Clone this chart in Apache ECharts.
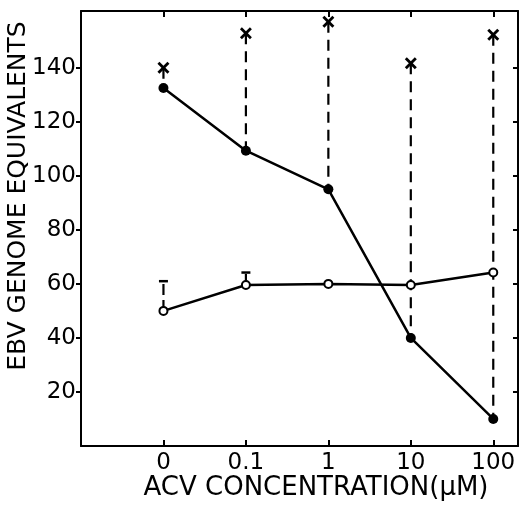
<!DOCTYPE html>
<html>
<head>
<meta charset="utf-8">
<script src="https://cdn.jsdelivr.net/npm/echarts@6/dist/echarts.min.js"></script>
<style>
html,body{margin:0;padding:0;background:#fff;}
#chart{width:520px;height:506px;}
</style>
</head>
<body>
<div id="chart"></div>
<script>
// ---- data ----
const categories = ['0', '0.1', '1', '10', '100'];
const crossValues = [140, 152.8, 157, 141.7, 152.2];      // "x" markers
const filledValues = [132.5, 109.3, 95, 40, 10];          // closed circles
const openValues = [50, 59.6, 60, 59.6, 64.2];            // open circles
const openErrorTop = [61, 64.2, null, null, null];        // upper error bars of open circles
const yTickValues = [20, 40, 60, 80, 100, 120, 140];
const xTitle = 'ACV CONCENTRATION(\u00b5M)';
const yTitle = 'EBV GENOME EQUIVALENTS';

const xIdx = categories.map((c, i) => i);
const font = 'DejaVu Sans';

const chart = echarts.init(document.getElementById('chart'), null, {renderer: 'canvas'});

const dropData = categories.map((c, i) => [i, crossValues[i], filledValues[i]]);
const errData = [];
openErrorTop.forEach((t, i) => { if (t != null) errData.push([i, openValues[i], t]); });

const axisLineStyle = {color: '#000', width: 2};

chart.setOption({
  animation: false,
  backgroundColor: '#fff',
  grid: {left: 81, right: 2, top: 11, bottom: 60},
  xAxis: [{
    type: 'value', min: -1, max: 4.3, interval: 1, position: 'bottom',
    axisLine: {onZero: false, lineStyle: axisLineStyle},
    axisTick: {inside: true, length: 6, customValues: xIdx, lineStyle: {color: '#000', width: 2}},
    axisLabel: {customValues: xIdx, formatter: v => categories[Math.round(v)], margin: 6,
      color: '#000', fontSize: 23, fontFamily: font},
    splitLine: {show: false}
  }, {
    type: 'value', min: -1, max: 4.3, interval: 1, position: 'top',
    axisLine: {onZero: false, lineStyle: axisLineStyle},
    axisTick: {inside: true, length: 6, customValues: xIdx, lineStyle: {color: '#000', width: 2}},
    axisLabel: {show: false},
    splitLine: {show: false}
  }],
  yAxis: [{
    type: 'value', min: 0, max: 161, interval: 20, position: 'left',
    axisLine: {show: true, onZero: false, lineStyle: axisLineStyle},
    axisTick: {show: true, inside: false, length: 5, customValues: yTickValues, lineStyle: {color: '#000', width: 2}},
    axisLabel: {customValues: yTickValues, margin: 5, color: '#000', fontSize: 23, fontFamily: font},
    splitLine: {show: false}
  }, {
    type: 'value', min: 0, max: 161, interval: 20, position: 'right',
    axisLine: {show: true, onZero: false, lineStyle: axisLineStyle},
    axisTick: {show: true, inside: true, length: 5, customValues: yTickValues, lineStyle: {color: '#000', width: 2}},
    axisLabel: {show: false},
    splitLine: {show: false}
  }],
  graphic: [{
    type: 'text', x: 18, y: 196, rotation: Math.PI / 2,
    style: {text: yTitle, fill: '#000', font: '25px "' + font + '"', align: 'center', verticalAlign: 'middle'}
  }, {
    type: 'text', x: 316, y: 488,
    style: {text: xTitle, fill: '#000', font: '26px "' + font + '"', align: 'center', verticalAlign: 'middle'}
  }],
  series: [{
    type: 'custom', name: 'drop', data: dropData, z: 1,
    renderItem: (params, api) => {
      const a = api.coord([api.value(0), api.value(1)]);
      const b = api.coord([api.value(0), api.value(2)]);
      return {type: 'line', shape: {x1: a[0], y1: a[1], x2: b[0], y2: b[1]},
        style: {stroke: '#000', lineWidth: 2.2, lineDash: [11, 7]}};
    }
  }, {
    type: 'custom', name: 'err', data: errData, z: 1,
    renderItem: (params, api) => {
      const a = api.coord([api.value(0), api.value(1)]);
      const b = api.coord([api.value(0), api.value(2)]);
      return {type: 'group', children: [
        {type: 'line', shape: {x1: a[0], y1: a[1], x2: b[0], y2: b[1]},
          style: {stroke: '#000', lineWidth: 2.2, lineDash: [11, 5]}},
        {type: 'line', shape: {x1: b[0] - 4.5, y1: b[1], x2: b[0] + 4.5, y2: b[1]},
          style: {stroke: '#000', lineWidth: 2.5}}
      ]};
    }
  }, {
    type: 'custom', name: 'cross', data: categories.map((c, i) => [i, crossValues[i]]), z: 3,
    renderItem: (params, api) => {
      const p = api.coord([api.value(0), api.value(1)]);
      const s = 5;
      return {type: 'group', children: [
        {type: 'line', shape: {x1: p[0] - s, y1: p[1] - s, x2: p[0] + s, y2: p[1] + s}, style: {stroke: '#000', lineWidth: 2.8}},
        {type: 'line', shape: {x1: p[0] + s, y1: p[1] - s, x2: p[0] - s, y2: p[1] + s}, style: {stroke: '#000', lineWidth: 2.8}}
      ]};
    }
  }, {
    type: 'line', name: 'filled', data: categories.map((c, i) => [i, filledValues[i]]), z: 4,
    symbol: 'circle', symbolSize: 10,
    lineStyle: {color: '#000', width: 2.5},
    itemStyle: {color: '#000'}
  }, {
    type: 'line', name: 'open', data: categories.map((c, i) => [i, openValues[i]]), z: 4,
    symbol: 'circle', symbolSize: 8,
    lineStyle: {color: '#000', width: 2.5},
    itemStyle: {color: '#fff', borderColor: '#000', borderWidth: 2}
  }]
});
</script>
</body>
</html>
